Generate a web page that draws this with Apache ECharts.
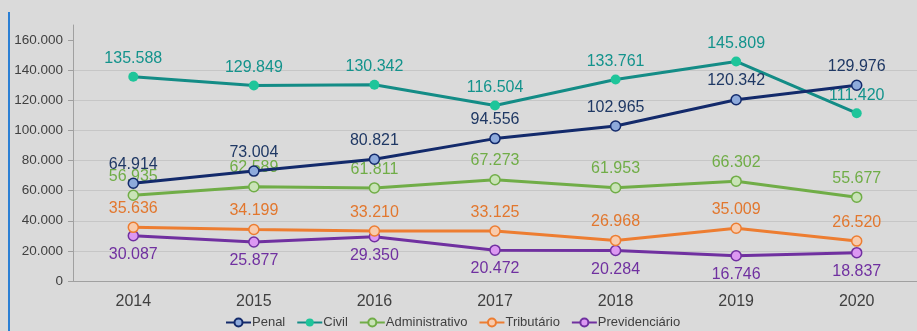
<!DOCTYPE html>
<html>
<head>
<meta charset="utf-8">
<script src="https://cdn.jsdelivr.net/npm/echarts@6/dist/echarts.min.js"></script>
<style>
  html, body { margin: 0; padding: 0; background: #dadada; }
  #chart { width: 917px; height: 331px; }
</style>
</head>
<body>
<div id="chart"></div>
<script>
// Processos por área, 2014–2020
const years = ['2014', '2015', '2016', '2017', '2018', '2019', '2020'];
const penal = [64914, 73004, 80821, 94556, 102965, 120342, 129976];
const civil = [135588, 129849, 130342, 116504, 133761, 145809, 111420];
const administrativo = [56935, 62589, 61811, 67273, 61953, 66302, 55677];
const tributario = [35636, 34199, 33210, 33125, 26968, 35009, 26520];
const previdenciario = [30087, 25877, 29350, 20472, 20284, 16746, 18837];
const yTicks = [0, 20000, 40000, 60000, 80000, 100000, 120000, 140000, 160000];

const FONT = 'Liberation Sans, Arial, sans-serif';

// Brazilian thousands separator: 135588 -> "135.588"
function fmt(v) {
  return String(v).replace(/\B(?=(\d{3})+(?!\d))/g, '.');
}

function makeSeries(name, data, lineColor, fillColor, labelColor, labelPos, z, borderless) {
  return {
    name: name,
    type: 'line',
    data: data,
    z: z,
    symbol: 'circle',
    symbolSize: 10,
    lineStyle: { color: lineColor, width: 3 },
    itemStyle: {
      color: fillColor,
      borderColor: borderless ? fillColor : lineColor,
      borderWidth: borderless ? 0 : 1.5
    },
    label: {
      show: true,
      position: labelPos,
      distance: 5,
      color: labelColor,
      fontSize: 16,
      fontFamily: FONT,
      formatter: p => fmt(p.value)
    },
    emphasis: { disabled: true }
  };
}

const chart = echarts.init(document.getElementById('chart'), null, { renderer: 'canvas' });
chart.setOption({
  backgroundColor: '#dadada',
  animation: false,
  graphic: [{
    type: 'rect',
    left: 8, top: 12,
    shape: { width: 2, height: 319 },
    style: { fill: '#2a7fd4' },
    silent: true
  }],
  grid: { left: 73, right: -12, top: 25, bottom: 50, containLabel: false },
  legend: {
    left: 220,
    top: 311,
    itemWidth: 25,
    itemHeight: 10,
    itemGap: 11,
    textStyle: { color: '#404040', fontSize: 13, fontFamily: FONT, padding: [0, 0, 0, -4] },
    data: ['Penal', 'Civil', 'Administrativo', 'Tributário', 'Previdenciário']
  },
  xAxis: {
    type: 'category',
    data: years,
    boundaryGap: true,
    axisLine: { lineStyle: { color: '#a0a0a0', width: 1 } },
    axisTick: { show: false },
    axisLabel: { color: '#404040', fontSize: 16, fontFamily: FONT, margin: 13 }
  },
  yAxis: {
    type: 'value',
    min: 0,
    max: 170000,
    interval: 20000,
    axisLine: { show: true, lineStyle: { color: '#a0a0a0', width: 1 } },
    axisTick: { show: true, length: 5, lineStyle: { color: '#a0a0a0' }, customValues: yTicks },
    axisLabel: {
      color: '#404040', fontSize: 13.5, fontFamily: FONT, margin: 10,
      customValues: yTicks,
      formatter: v => fmt(v)
    },
    splitLine: { show: true, showMaxLine: false, lineStyle: { color: '#c6c6c6', width: 1 } }
  },
  series: [
    makeSeries('Penal', penal, '#132a6b', '#8eaadb', '#1f3864', 'top', 6, false),
    makeSeries('Civil', civil, '#138c86', '#1ec59a', '#13938c', 'top', 5, true),
    makeSeries('Administrativo', administrativo, '#70ad47', '#c9e3b7', '#70ad47', 'top', 4, false),
    makeSeries('Tributário', tributario, '#ed7d31', '#f8cbad', '#e2772e', 'top', 3, false),
    makeSeries('Previdenciário', previdenciario, '#7030a0', '#dc98f2', '#7030a0', 'bottom', 2, false)
  ]
});
</script>
</body>
</html>
